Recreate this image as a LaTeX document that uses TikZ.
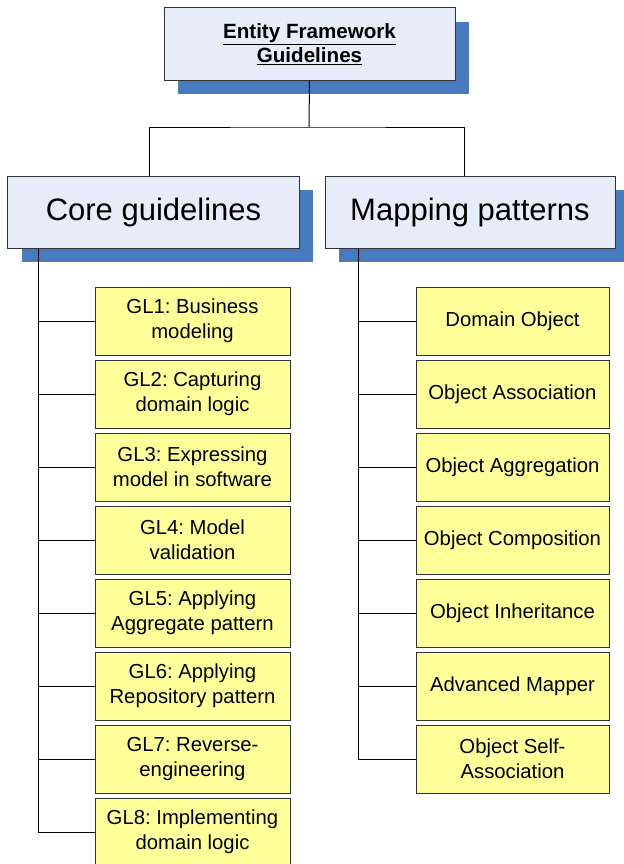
\documentclass[tikz,border=0pt]{standalone}
\usepackage{fontspec}
\setmainfont{Liberation Sans}
\usetikzlibrary{shadows}
\frenchspacing
\definecolor{hdrfill}{RGB}{230,236,248}
\definecolor{shadowblue}{RGB}{72,122,192}
\definecolor{itemfill}{RGB}{255,255,153}
\definecolor{boxline}{RGB}{50,50,50}
\tikzset{
  hdrbox/.style={draw=boxline, line width=1bp, fill=hdrfill, minimum height=72bp, inner sep=0pt, align=center,
    drop shadow={shadow xshift=14bp, shadow yshift=-14bp, fill=shadowblue, opacity=1}},
  itembox/.style={draw=boxline, line width=1bp, fill=itemfill, minimum width=195bp, minimum height=68bp, inner sep=0pt, align=center,
    font=\fontsize{20.3bp}{25bp}\selectfont\frenchspacing},
  conn/.style={draw=black, line width=1bp}
}
\begin{document}
\begin{tikzpicture}[x=1bp,y=-1bp]
\useasboundingbox (0,0) rectangle (624,864);
\clip (0,0) rectangle (624,864);
% top
\node[hdrbox, minimum width=291bp, font=\fontsize{20.6bp}{24bp}\selectfont\bfseries] (top) at (309.5,44)
  {\underline{Entity Framework}\\\underline{Guidelines}};
\node[hdrbox, minimum width=291bp, font=\fontsize{31bp}{36bp}\selectfont] (core) at (153.5,212) {Core guidelines};
\node[hdrbox, minimum width=290bp, font=\fontsize{31bp}{36bp}\selectfont] (map) at (470,212) {Mapping patterns};
% left items
\node[itembox] (g1) at (192.5,321) {GL1: Business\\modeling};
\node[itembox] (g2) at (192.5,394) {GL2: Capturing\\domain logic};
\node[itembox] (g3) at (192.5,467) {GL3: Expressing\\model in software};
\node[itembox] (g4) at (192.5,540) {GL4: Model\\validation};
\node[itembox] (g5) at (192.5,613) {GL5: Applying\\Aggregate pattern};
\node[itembox] (g6) at (192.5,686) {GL6: Applying\\Repository pattern};
\node[itembox] (g7) at (192.5,759) {GL7: Reverse-\\engineering};
\node[itembox] (g8) at (192.5,832) {GL8: Implementing\\domain logic};
% right items
\node[itembox, minimum width=193bp] (m1) at (512.5,321) {Domain Object};
\node[itembox, minimum width=193bp] (m2) at (512.5,394) {Object Association};
\node[itembox, minimum width=193bp] (m3) at (512.5,467) {Object Aggregation};
\node[itembox, minimum width=193bp] (m4) at (512.5,540) {Object Composition};
\node[itembox, minimum width=193bp] (m5) at (512.5,613) {Object Inheritance};
\node[itembox, minimum width=193bp] (m6) at (512.5,686) {Advanced Mapper};
\node[itembox, minimum width=193bp] (m7) at (512.5,759) {Object Self-\\Association};
% connectors
\coordinate (j) at (309,127);
\coordinate (spL) at (38,248);
\coordinate (spR) at (358,248);
\draw[conn] (top.south) -- (j);
\draw[conn] ([xshift=-4.5bp]core.north) |- (j) -| ([xshift=-6bp]map.north);
\draw[conn] (spL) |- (g8.west);
\foreach \n in {g1,g2,g3,g4,g5,g6,g7} \draw[conn] (\n.west) -- (\n.west -| spL);
\draw[conn] (spR) |- (m7.west);
\foreach \n in {m1,m2,m3,m4,m5,m6} \draw[conn] (\n.west) -- (\n.west -| spR);
\end{tikzpicture}
\end{document}
